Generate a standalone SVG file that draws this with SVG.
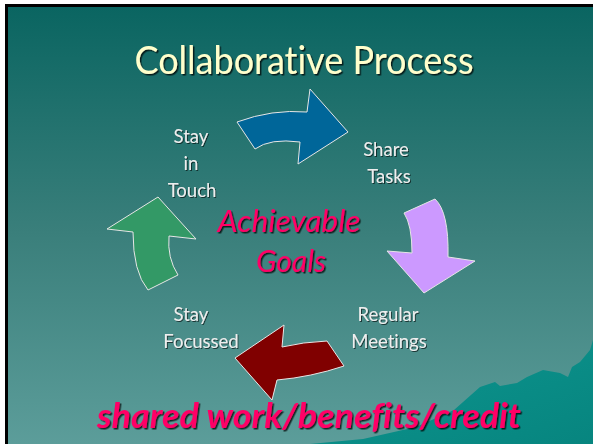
<svg xmlns="http://www.w3.org/2000/svg" width="593" height="444" viewBox="0 0 593 444">
<defs>
<linearGradient id="bg" x1="0" y1="0" x2="0" y2="1">
<stop offset="0" stop-color="#0a6561"/>
<stop offset="0.5" stop-color="#3a7f7b"/>
<stop offset="1" stop-color="#5e9f9c"/>
</linearGradient>
<linearGradient id="mt" x1="0" y1="0" x2="1" y2="1">
<stop offset="0" stop-color="#0d9690"/>
<stop offset="1" stop-color="#07857f"/>
</linearGradient>
<filter id="sh" x="-10%" y="-10%" width="130%" height="140%">
<feDropShadow dx="1.5" dy="1.5" stdDeviation="0.6" flood-color="#000" flood-opacity="0.75"/>
</filter>
<filter id="sh2" x="-10%" y="-10%" width="130%" height="140%">
<feDropShadow dx="1" dy="1" stdDeviation="0.5" flood-color="#000" flood-opacity="0.6"/>
</filter>
</defs>
<style>
text{font-variant-ligatures:none}
.lbl{font-family:Lato,"Liberation Sans",sans-serif;font-size:18.5px;fill:#eeeeee;text-anchor:middle;filter:url(#sh2)}
.goal{font-family:Lato,"Liberation Sans",sans-serif;font-size:30px;font-style:italic;fill:#ff0066;text-anchor:middle;filter:url(#sh)}
.arr{stroke:#e6e6e6;stroke-width:1;stroke-linejoin:miter}
</style>
<rect x="0" y="0" width="593" height="444" fill="#ffffff"/>
<rect x="5" y="4" width="600" height="450" fill="#000000"/>
<rect x="8" y="7" width="600" height="450" fill="url(#bg)"/>
<path d="M310,444 L363,439 L416,427 L454,410 L480,387 L495,382 L500,386 L517,383 L527,377 L543,370 L560,373 L568,377 L572,367 L580,362 L590,350 L593,340 L593,444 Z" fill="url(#mt)"/>
<g id="title">
<text x="304" y="74" font-family="Lato,'Liberation Sans',sans-serif" font-size="38" fill="#ffffcc" text-anchor="middle" textLength="339" lengthAdjust="spacingAndGlyphs" filter="url(#sh)">Collaborative Process</text>
</g>
<g id="connectors">
<path class="arr" fill="#006699" d="M237,122 Q272,109 307,112 L310,89 L348,132 L298,164 L300,142 Q270,138 255,149 Z"/>
<path class="arr" fill="#cc99ff" d="M404,213 L435,199 Q449,212 448,257 L475,261 L424,293 L387,251 L412,253 Q412,225 404,213 Z"/>
<path class="arr" fill="#800000" d="M327,341 L344,366 Q311,377 277,380 L272,400 L235,358 L284,325 L282,347 Q303,342 327,341 Z"/>
<path class="arr" fill="#339966" d="M158,197 L196,239 L169,236 Q167,258 178,275 L148,290 Q133,272 133,232 L107,229 Z"/>
</g>
<g id="node-stay-in-touch">
<text class="lbl" x="191" y="143">Stay</text>
<text class="lbl" x="191" y="170">in</text>
<text class="lbl" x="192" y="197">Touch</text>
</g>
<g id="node-share-tasks">
<text class="lbl" x="386" y="156">Share</text>
<text class="lbl" x="389" y="183">Tasks</text>
</g>
<g id="node-regular-meetings">
<text class="lbl" x="388" y="321">Regular</text>
<text class="lbl" x="389" y="348">Meetings</text>
</g>
<g id="node-stay-focussed">
<text class="lbl" x="191" y="321">Stay</text>
<text class="lbl" x="201" y="348">Focussed</text>
</g>
<g id="node-goals">
<text class="goal" x="289" y="232" textLength="143" lengthAdjust="spacingAndGlyphs">Achievable</text>
<text class="goal" x="291" y="272">Goals</text>
</g>
<g id="footer">
<text x="309" y="428" font-family="Lato,'Liberation Sans',sans-serif" font-size="34" font-weight="bold" font-style="italic" fill="#ff0066" text-anchor="middle" textLength="424" lengthAdjust="spacingAndGlyphs" filter="url(#sh)">shared work/benefits/credit</text>
</g>
</svg>
